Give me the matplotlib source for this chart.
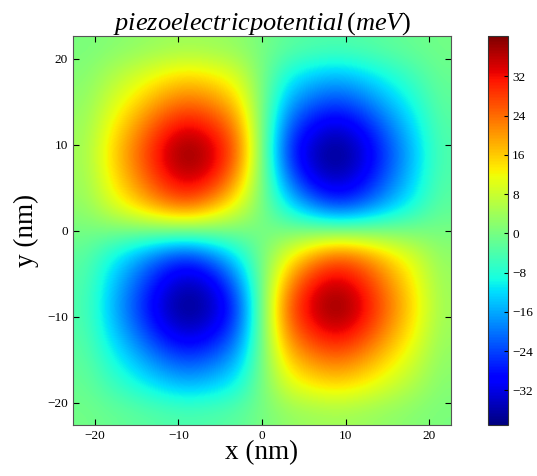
import numpy as np
import matplotlib
matplotlib.use("Agg")
import matplotlib.pyplot as plt
from matplotlib.ticker import MultipleLocator

plt.rcParams['font.family'] = ['Liberation Serif', 'DejaVu Serif']
plt.rcParams['mathtext.fontset'] = 'custom'
plt.rcParams['mathtext.it'] = 'Liberation Serif:italic'
plt.rcParams['mathtext.rm'] = 'Liberation Serif'

# extent of the simulated box (nm)
x_range = [-22.6, 22.6]
y_range = [-22.6, 22.6]

# potential (meV) on a 15x15 grid, first row = top (y ~ +21)
top_rows = [
    [0.4, 1.4, 2.4, 3.4, 4.0, 3.6, 2.6, 0, -2.6, -3.6, -4.0, -3.4, -2.4, -1.4, -0.4],
    [1.4, 5.1, 8.6, 12.1, 14.3, 12.8, 9.3, 0, -9.3, -12.8, -14.3, -12.1, -8.6, -5.1, -1.4],
    [2.4, 8.6, 14.3, 20.2, 23.8, 21.4, 15.4, 0, -15.4, -21.4, -23.8, -20.2, -14.3, -8.6, -2.4],
    [3.4, 12.1, 20.2, 28.6, 33.7, 30.3, 21.9, 0, -21.9, -30.3, -33.7, -28.6, -20.2, -12.1, -3.4],
    [4.0, 14.3, 23.8, 33.7, 40.2, 35.6, 25.7, 0, -25.7, -35.6, -39.1, -33.7, -23.8, -14.3, -4.0],
    [3.6, 12.8, 21.4, 30.3, 35.6, 32.1, 20.0, 0, -20.0, -32.1, -35.6, -30.3, -21.4, -12.8, -3.6],
    [2.6, 9.3, 15.4, 21.9, 25.7, 20.0, 11.0, 0, -11.0, -20.0, -25.7, -21.9, -15.4, -9.3, -2.6],
]
middle_row = [0, 0, 0, 0, 0, 0, 0, 0, 0, 0, 0, 0, 0, 0, 0]
bottom_rows = [
    [-2.6, -9.3, -15.4, -21.9, -25.7, -20.0, -11.0, 0, 11.0, 20.0, 25.7, 21.9, 15.4, 9.3, 2.6],
    [-3.6, -12.8, -21.4, -30.3, -35.6, -32.1, -20.0, 0, 20.0, 32.1, 35.6, 30.3, 21.4, 12.8, 3.6],
    [-4.0, -14.3, -23.8, -33.7, -39.1, -35.6, -25.7, 0, 25.7, 35.6, 40.2, 33.7, 23.8, 14.3, 4.0],
    [-3.4, -12.1, -20.2, -28.6, -33.7, -30.3, -21.9, 0, 21.9, 30.3, 33.7, 28.6, 20.2, 12.1, 3.4],
    [-2.4, -8.6, -14.3, -20.2, -23.8, -21.4, -15.4, 0, 15.4, 21.4, 23.8, 20.2, 14.3, 8.6, 2.4],
    [-1.4, -5.1, -8.6, -12.1, -14.3, -12.8, -9.3, 0, 9.3, 12.8, 14.3, 12.1, 8.6, 5.1, 1.4],
    [-0.4, -1.4, -2.4, -3.4, -4.0, -3.6, -2.6, 0, 2.6, 3.6, 4.0, 3.4, 2.4, 1.4, 0.4],
]
cbar_ticks = [-32, -24, -16, -8, 0, 8, 16, 24, 32]

pot = np.array(top_rows + [middle_row] + bottom_rows)

fig = plt.figure(figsize=(5.37, 4.76), dpi=100)
ax = fig.add_axes([0.136, 0.107, 0.704, 0.817])
cax = fig.add_axes([0.909, 0.107, 0.037, 0.817])

im = ax.imshow(pot, cmap='jet', origin='upper', interpolation='bicubic',
               extent=[x_range[0], x_range[1], y_range[0], y_range[1]], aspect='auto')

ax.set_xlim(x_range)
ax.set_ylim(y_range)
ax.xaxis.set_major_locator(MultipleLocator(10))
ax.yaxis.set_major_locator(MultipleLocator(10))
ax.tick_params(direction='in', top=True, right=True, length=4, labelsize=9.5)
for s in ax.spines.values():
  s.set_color('#555555')

ax.set_xlabel('x (nm)', fontsize=19.5, labelpad=-1)
ax.set_ylabel('y (nm)', fontsize=19.5, labelpad=6)
ax.set_title(r'$piezoelectric potential\,(meV)$', fontsize=19, pad=5)

cb = fig.colorbar(im, cax=cax)
cb.set_ticks(cbar_ticks)
cb.ax.tick_params(direction='in', length=3, labelsize=9.5, pad=3)
cb.outline.set_edgecolor('#333333')

fig.savefig('out.png', dpi=100)
